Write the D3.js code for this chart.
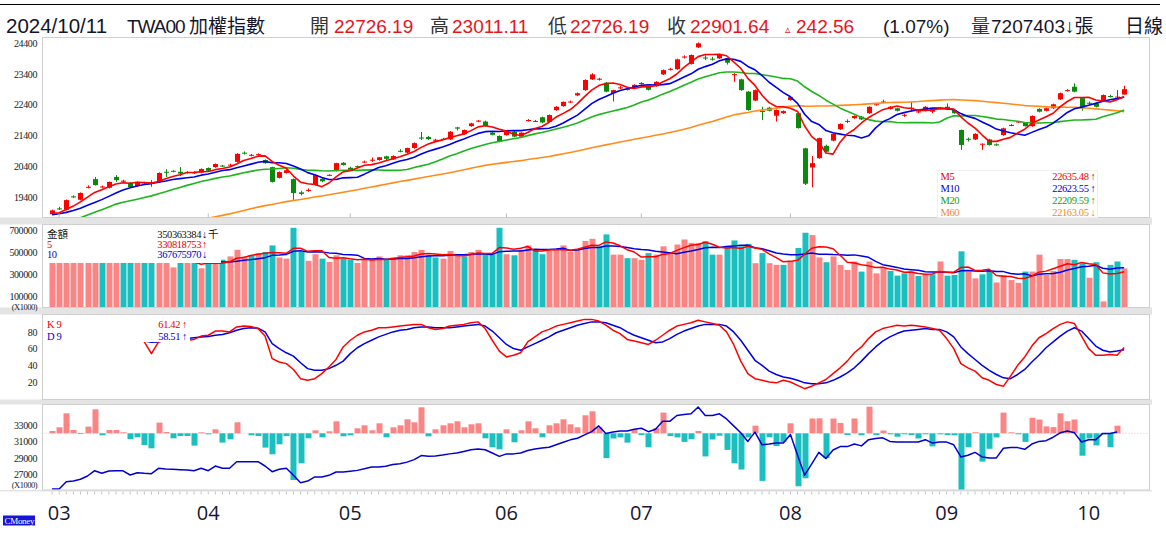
<!DOCTYPE html>
<html lang="zh-Hant">
<head>
<meta charset="UTF-8">
<title>TWA00 加權指數 日線</title>
<style>
  body { margin: 0; background: #fff; }
  svg { display: block; }
  .lab { font-family: "Liberation Serif", "DejaVu Serif", serif; font-size: 10px; letter-spacing: -0.4px; fill: #1a1a1a; }
  .unit { font-family: "Liberation Serif", serif; font-size: 8.5px; letter-spacing: -0.5px; fill: #1a1a1a; }
  .leg { font-family: "Liberation Serif", "DejaVu Serif", serif; font-size: 10.5px; letter-spacing: -0.4px; }
  .legc { font-family: "Noto Sans CJK TC", sans-serif; font-size: 10.5px; }
  .hdr { font-family: "Liberation Sans", "Noto Sans CJK TC", sans-serif; font-size: 19px; }
  .month { font-family: "Open Sans", "Noto Sans", sans-serif; font-size: 20px; fill: #171733; }
</style>
</head>
<body>
<svg id="chart" width="1166" height="549"></svg>

<script src="https://cdnjs.cloudflare.com/ajax/libs/d3/7.8.5/d3.min.js"></script>
<script>

// ---- data (2024/02/29 .. 2024/10/11, one entry per trading day) ----

// closes before the window, only used to feed the moving averages
const prevCloses = [17433,
  17481,17360,17340,17280,17230,17280,17330,17350,17420,17450,17500,17580,17570,17600,17540,17580,17660,17700,17770,17800,17930,
  17850,17590,17510,17510,17470,17480,17550,17550,17650,17550,17480,17380,17390,17440,17580,17820,17920,17930,17990,17810,17800,17890,
  18000,18030,18020,18100,18100,18780,18720,18850,18790,18770,18820,18890,18780,18830,18850];

const opens = [18840,19030,18990,19420,19310,19700,19980,19710,19700,20050,
  19900,19860,19760,19840,19870,19890,20220,20250,20220,20180,
  20180,20190,20340,20370,20420,20430,20540,20840,20750,20770,
  20600,20370,20020,20180,19980,19550,19600,19790,19990,20100,
  20240,20510,20350,20400,20530,20590,20600,20720,20620,20900,
  20840,20990,21330,21350,21240,21290,21270,21660,21440,21700,
  21860,21850,21490,21380,21410,21520,21360,21880,21860,21990,
  21840,22220,22350,22480,22700,22870,23220,23210,23110,22770,
  22940,22890,22960,23080,22980,23000,23380,23540,23550,23940,
  23720,24260,23930,23890,23900,23850,23370,23220,22820,22530,
  22190,22300,22040,22120,22550,22120,20980,20360,20660,21060,
  21230,21600,21870,21960,22010,22120,22400,22500,22260,22280,
  22050,22300,22160,22200,22170,22270,22330,22225,21575,21290,
  21270,21110,21270,21110,21410,21730,21830,21810,21700,22260,
  22200,22280,22570,22850,22980,22610,22460,22440,22530,22680,
  22630,22726.19];

const highs = [18990,19080,19320,19450,19550,19780,20050,19770,19900,20110,
  19960,19880,19900,19890,19950,20200,20300,20270,20370,20240,
  20240,20330,20360,20490,20440,20480,20820,20880,20800,20820,
  20620,20380,20230,20300,20000,19600,19680,20130,20010,20140,
  20510,20530,20380,20420,20580,20680,20700,20740,20750,20950,
  21000,21170,21510,21380,21290,21320,21540,21680,21590,21810,
  21900,21880,21510,21400,21530,21540,21500,21930,21900,22010,
  22080,22350,22500,22530,22790,23220,23420,23270,23130,22880,
  23000,22940,23060,23130,23000,23160,23540,23590,23890,24000,
  24030,24416,24000,23950,24050,23870,23420,23240,22840,22890,
  22330,22330,22240,22210,22660,22140,21000,20730,21330,21100,
  21470,21790,21920,22050,22030,22340,22450,22560,22350,22300,
  22100,22490,22210,22350,22290,22310,22440,22240,21590,21330,
  21470,21140,21290,21140,21650,21770,21870,21830,22050,22280,
  22300,22430,22790,22900,23090,22630,22500,22460,22730,22720,
  22870,23011.11];

const lows = [18820,18980,18970,19370,19290,19680,19770,19690,19680,19890,
  19870,19700,19740,19820,19730,19870,20050,20200,20080,20160,
  20150,20170,20230,20350,20380,20400,20520,20780,20720,20740,
  20480,19870,20000,20160,19300,19450,19570,19770,19880,20080,
  20230,20420,20260,20360,20500,20540,20580,20600,20600,20850,
  20820,20970,21250,21250,21210,21250,21250,21560,21420,21680,
  21830,21690,21400,21180,21390,21340,21340,21850,21840,21800,
  21820,22200,22330,22450,22680,22850,23200,23180,22800,22500,
  22900,22860,22940,23050,22860,22980,23360,23510,23530,23900,
  23700,24240,23850,23830,23880,23700,23140,22850,22200,22510,
  21900,22180,21850,22100,22530,21620,19790,19715,20640,20850,
  21210,21580,21800,21940,21900,22100,22370,22450,22240,22180,
  22000,22170,22120,22180,22120,22240,22230,22100,20930,21200,
  21250,20930,21070,21060,21390,21700,21800,21690,21680,22150,
  22180,22260,22550,22820,22800,22200,22400,22310,22510,22630,
  22600,22726.19];

const closes = [18966,19010,19300,19400,19530,19730,19790,19740,19890,19950,
  19930,19725,19890,19870,19840,20180,20200,20230,20160,20210,
  20200,20310,20250,20470,20400,20450,20800,20820,20770,20790,
  20500,19890,20210,20270,19530,19500,19630,20110,19910,20120,
  20500,20440,20280,20380,20550,20610,20690,20640,20730,20880,
  20990,21150,21310,21280,21260,21270,21520,21620,21575,21790,
  21880,21710,21420,21200,21510,21360,21490,21900,21870,21820,
  22060,22330,22490,22500,22770,23200,23380,23240,22820,22870,
  22960,22910,23040,23100,22880,23140,23520,23560,23870,23960,
  24010,24390,23900,23870,24010,23760,23390,22870,22225,22870,
  22160,22200,22225,22190,22640,21638,19830,20500,21310,20870,
  21450,21770,21845,22030,21920,22330,22410,22490,22330,22200,
  22070,22280,22180,22330,22280,22280,22250,22120,21090,21270,
  21450,21130,21090,21090,21630,21740,21850,21700,22030,22170,
  22280,22410,22770,22870,22820,22280,22440,22330,22710,22660,
  22659.08,22901.64];

// turnover, in thousands of 千元 (axis unit X1000)
const turnover = [420000,450000,480000,440000,470000,520000,560000,470000,470000,510000,
  460000,440000,430000,420000,400000,470000,450000,360000,420000,400000,
  410000,352000,420000,385000,430000,460000,520000,460000,470000,490000,
  500000,560000,450000,440000,720000,500000,420000,480000,440000,410000,
  470000,440000,430000,400000,430000,440000,460000,430000,450000,470000,
  470000,500000,520000,470000,450000,440000,510000,470000,460000,500000,
  520000,480000,480000,720000,480000,470000,520000,560000,520000,480000,
  510000,530000,560000,500000,530000,600000,620000,550000,660000,476000,
  476000,444000,444000,429000,490000,476000,552000,490000,568000,614000,
  583000,583000,598000,476000,476000,552000,605000,552000,574000,398000,
  490000,398000,383000,383000,420000,537000,675000,654000,451000,407000,
  460000,383000,337000,414000,322000,414000,306000,352000,328000,285000,
  306000,322000,282000,297000,297000,414000,285000,291000,506000,322000,
  260000,297000,328000,223000,291000,245000,220000,322000,322000,476000,
  291000,328000,436000,436000,429000,398000,266000,407000,51000,383000,
  414000,350363];

const kValues = [75,78,85,88,90,92,88,85,86,84,80,74,72,68,54,68,75,78,76,70,
  71,75,76,81,81,80,86,87,86.5,84,75,48,44,42,35,24,22,24,30,38,
  47,62,70,76,80,82,85,85,86,87,88,89,89,85,83,84,87,88,89,91,
  92,84,70,57,50,52,55,68,74,80,83,87,89,91,93,95,95,93,88,82,
  78,71,69,67,65,70,76,82,87,89,91,94,92,90,88,80,65,45,30,24,
  22,20,19,22,20,16,12,15,19,23,30,37,45,55,62,72,80,84,86,88,
  87,88,87,86,84,82,72,60,42,37,33,25,22,17,15,27,40,50,63,73,
  78,84,89,92,90,75,60,52,52,53,52,61.42];

const dValues = [70,72,76,80,84,87,87,86,86,85,83,80,76,69,67.5,68,70,73,74,72,
  73,74,74.5,76,77,79,82,84,85,84.5,80,66,60,55,51,43,36,34,34,36,
  40,45,54,61,66,70,74,77,80,82,83,85,86,86,85,85,85,86,87,88,
  89,87,81,73,65,60,58,62,66,70,74,79,82,85,88,90,92,92,91,88,
  85,80,76,73,70,67,68,72,77,81,84,87,89,89,89,87,80,70,58,46,
  40,33,29,26,24.5,22,19,18,18,19,22,26,31,37,45,54,62,69,74,78,
  81,82,83,84,83,83,80,74,62,54,47,40,34,29,25,24,29,35,44,52,
  61,68,75,81,85,81,72,63,58,56,57,58.51];

// bottom panel: daily net (bars) and running total (line, X1000); last day not yet published
const netFlow = [23,60,200,33,-7,67,240,-20,33,33,
  10,-57,-40,-117,-150,107,13,-50,-27,-27,
  -123,10,-10,40,-93,-60,110,0,-20,-27,
  -143,-210,-110,-27,-467,-300,-50,30,-40,20,
  120,-30,-20,50,80,30,100,-40,60,80,
  140,110,260,-30,40,80,100,120,60,90,
  100,-50,-140,-160,40,-90,30,120,50,-40,
  80,100,140,90,60,180,220,60,-248,-52,
  -41,-93,41,-17,-138,52,207,-28,-41,-86,
  -59,24,-231,-62,-24,-166,-300,-362,-41,76,
  -476,-40,-128,-86,100,-530,-450,148,150,-248,
  148,103,-17,148,-20,266,-17,28,-10,-34,
  -10,-17,-52,-10,-131,-10,-17,-20,-569,-138,
  10,-283,-155,-41,207,10,-10,-86,155,138,
  69,62,200,121,138,-224,-52,-121,-10,-138,
  76,null];

const netTotal = [25240,25240,26130,26210,26420,26820,27460,27150,27420,27460,
  27440,26940,27220,27150,27100,27750,27680,27640,27590,27550,
  27460,27750,27460,28030,27750,27750,28550,28550,28550,28550,
  28030,27340,27630,27750,26900,26010,26200,26700,26700,26900,
  27300,27300,27400,27500,27700,27900,27900,28000,28200,28300,
  28500,28800,29300,29200,29250,29350,29500,29600,29800,30000,
  30100,30000,29600,29200,29500,29500,29600,29900,30100,30200,
  30300,30600,30900,31200,31400,31800,32200,32890,31980,32140,
  32270,32270,32480,32600,32190,32480,33440,33440,34150,34270,
  34360,35190,34150,34150,34360,33730,32890,32050,31010,32140,
  30600,30690,30810,30810,31850,29340,26920,28300,29680,28930,
  29970,30380,30380,30690,30470,31220,31350,31440,31010,30930,
  30930,30930,30930,31220,30810,30930,30930,30600,29130,29340,
  29680,29130,29010,29010,30180,30260,30260,30050,30690,31010,
  31100,31520,32050,32270,32050,30930,31220,31220,31980,31980,
  32140,null];

const monthLabels = ['03','04','05','06','07','08','09','10'];
const monthStarts = [1, 22, 42, 64, 83, 104, 126, 146];

const priceTicks = [19400, 20400, 21400, 22400, 23400, 24400];
const volTicks = [100000, 300000, 500000, 700000];
const kdTicks = [20, 40, 60, 80];
const netTicks = [27000, 29000, 31000, 33000];

const maLegend = [
  { name: 'M5',  value: '22635.48', arrow: '↑', color: '#e60000' },
  { name: 'M10', value: '22623.55', arrow: '↑', color: '#0000cc' },
  { name: 'M20', value: '22209.59', arrow: '↑', color: '#12a012' },
  { name: 'M60', value: '22163.05', arrow: '↓', color: '#f08a24' }
];
const volLegend = [
  { name: '金額', value: '350363384', arrow: '↓', unit: '千', color: '#111' },
  { name: '5',    value: '330818753', arrow: '↑', unit: '',   color: '#e60000' },
  { name: '10',   value: '367675970', arrow: '↓', unit: '',   color: '#0000cc' }
];
const kdLegend = [
  { name: 'K 9', value: '61.42', arrow: '↑', color: '#e60000' },
  { name: 'D 9', value: '58.51', arrow: '↑', color: '#0000cc' }
];

// ---- drawing ----

const RED = '#ff0000', GREEN = '#0a8a0a';
const PINK = '#fb8585', TEAL = '#1bbfbf';
const N = closes.length;
const P = prevCloses.length;

const svg = d3.select('#chart');
svg.append('rect').attr('width', 1166).attr('height', 549).attr('fill', '#fff');

const left = 42.5, right = 1149.5;
const panels = {
  price: { top: 37.5, bottom: 217.5 },
  vol:   { top: 224.5, bottom: 307.5 },
  kd:    { top: 314.5, bottom: 399.5 },
  net:   { top: 404.5, bottom: 490 }
};

const x = d3.scaleBand().domain(d3.range(N)).range([48.5, 1127.7]);
const cx = i => x(i) + x.bandwidth() / 2;

const yPrice = d3.scaleLinear().domain([19400, 24400]).range([197, 43]);
const yVol = d3.scaleLinear().domain([100000, 700000]).range([296, 230]);
const yKD = d3.scaleLinear().domain([0, 100]).range([398.7, 315.2]);
const yTotal = d3.scaleLinear().domain([27000, 33000]).range([474.5, 425]);
const yFlow = d3.scaleLinear().domain([-560, 280]).range([489.3, 405.3]);

// gray separators
const bands = [[217.5, 224.5], [307.5, 314.5], [399.5, 404.5], [490, 491.5]];
bands.forEach(b => {
  svg.append('rect').attr('x', 0).attr('y', b[0]).attr('width', 1152).attr('height', b[1] - b[0])
    .attr('fill', '#e4e4e4');
});

const defs = svg.append('defs');
Object.entries(panels).forEach(([key, p]) => {
  svg.append('rect').attr('x', left).attr('y', p.top)
    .attr('width', right - left).attr('height', p.bottom - p.top)
    .attr('fill', '#fff').attr('stroke', '#cfcfcf').attr('stroke-width', 1);
  defs.append('clipPath').attr('id', 'clip-' + key)
    .append('rect').attr('x', left + 0.5).attr('y', p.top + 0.5)
    .attr('width', right - left - 1).attr('height', p.bottom - p.top - 1);
});

function movingAverage(values, lead, n) {
  const out = [];
  for (let i = lead; i < values.length; i++) {
    out.push(i - n + 1 < 0 ? null : d3.mean(values.slice(i - n + 1, i + 1)));
  }
  return out;
}

function drawLine(g, values, yScale, color, width) {
  const line = d3.line()
    .defined(d => d[1] != null)
    .x(d => cx(d[0]))
    .y(d => yScale(d[1]));
  g.append('path')
    .datum(values.map((v, i) => [i, v]))
    .attr('d', line)
    .attr('fill', 'none')
    .attr('stroke', color)
    .attr('stroke-width', width)
    .attr('stroke-linejoin', 'round');
}

// ---- price panel ----
const allCloses = prevCloses.concat(closes);
const ma5 = movingAverage(allCloses, P, 5);
const ma10 = movingAverage(allCloses, P, 10);
const ma20 = movingAverage(allCloses, P, 20);
const ma60 = movingAverage(allCloses, P, 60);

const gPrice = svg.append('g').attr('clip-path', 'url(#clip-price)');
const candles = d3.range(N).map(i => ({ i, o: opens[i], h: highs[i], l: lows[i], c: closes[i] }));

gPrice.selectAll('line.wick').data(candles).join('line')
  .attr('class', 'wick')
  .attr('x1', d => Math.round(cx(d.i)) + 0.5).attr('x2', d => Math.round(cx(d.i)) + 0.5)
  .attr('y1', d => yPrice(d.h)).attr('y2', d => yPrice(d.l))
  .attr('stroke', d => d.c >= d.o ? RED : GREEN).attr('stroke-width', 1);

gPrice.selectAll('rect.body').data(candles).join('rect')
  .attr('class', 'body')
  .attr('x', d => Math.round(cx(d.i)) - 2)
  .attr('width', 5)
  .attr('y', d => yPrice(Math.max(d.o, d.c)))
  .attr('height', d => Math.max(1, Math.abs(yPrice(d.o) - yPrice(d.c))))
  .attr('fill', d => d.c >= d.o ? RED : GREEN);

drawLine(gPrice, ma60, yPrice, '#ff8c1a', 1.6);
drawLine(gPrice, ma20, yPrice, '#1eb41e', 1.6);
drawLine(gPrice, ma10, yPrice, '#0000e6', 1.6);
drawLine(gPrice, ma5, yPrice, '#ff0000', 1.6);

// month marks on the bottom edge of the price panel
const mt = svg.append('g').attr('transform', `translate(0,${panels.price.bottom})`)
  .call(d3.axisTop(x).tickValues(monthStarts).tickSize(4).tickFormat(''));
mt.select('.domain').remove();
mt.selectAll('line').attr('stroke', '#bdbdbd');

// MA legend
const maBox = svg.append('g').attr('transform', 'translate(937.5,170.5)');
maBox.append('rect').attr('width', 160).attr('height', 47).attr('fill', '#fff').attr('stroke', '#efefef');
maLegend.forEach((m, k) => {
  const yy = 9 + k * 12;
  maBox.append('text').attr('class', 'leg').attr('x', 3).attr('y', yy).attr('fill', m.color).text(m.name);
  maBox.append('text').attr('class', 'leg').attr('x', 151).attr('y', yy).attr('text-anchor', 'end')
    .attr('fill', m.color).text(m.value);
  maBox.append('text').attr('class', 'leg').attr('x', 153).attr('y', yy).attr('fill', m.color).text(m.arrow);
});

// ---- turnover panel ----
const gVol = svg.append('g').attr('clip-path', 'url(#clip-vol)');
const isUp = i => closes[i] >= (i === 0 ? prevCloses[P - 1] : closes[i - 1]);

gVol.selectAll('rect').data(turnover).join('rect')
  .attr('x', (d, i) => Math.round(cx(i)) - 2.5)
  .attr('width', 6)
  .attr('y', d => yVol(d))
  .attr('height', d => yVol(0) - yVol(d))
  .attr('fill', (d, i) => isUp(i) ? PINK : TEAL);

drawLine(gVol, movingAverage(turnover, 0, 10), yVol, '#0000e6', 1.5);
drawLine(gVol, movingAverage(turnover, 0, 5), yVol, '#ff0000', 1.5);

const volBox = svg.append('g').attr('transform', 'translate(45,227)');
volBox.append('rect').attr('width', 176).attr('height', 36).attr('fill', '#fff');
volLegend.forEach((m, k) => {
  const yy = 10.5 + k * 10.2;
  volBox.append('text').attr('class', m.name === '金額' ? 'legc' : 'leg')
    .attr('x', 2).attr('y', yy).attr('fill', m.color).text(m.name);
  volBox.append('text').attr('class', 'leg').attr('x', 156).attr('y', yy).attr('text-anchor', 'end')
    .attr('fill', m.color).text(m.value);
  volBox.append('text').attr('class', 'leg').attr('x', 157).attr('y', yy).attr('fill', m.color).text(m.arrow);
  if (m.unit) volBox.append('text').attr('class', 'legc').attr('x', 163).attr('y', yy).attr('fill', m.color).text(m.unit);
});

// ---- KD panel ----
const gKD = svg.append('g').attr('clip-path', 'url(#clip-kd)');
drawLine(gKD, dValues, yKD, '#0000e6', 1.5);
drawLine(gKD, kValues, yKD, '#ff0000', 1.5);

const kdBox = svg.append('g').attr('transform', 'translate(45,317)');
kdBox.append('rect').attr('width', 145).attr('height', 25).attr('fill', '#fff');
kdLegend.forEach((m, k) => {
  const yy = 10.5 + k * 12.5;
  kdBox.append('text').attr('class', 'leg').attr('x', 2).attr('y', yy).attr('fill', m.color).text(m.name);
  kdBox.append('text').attr('class', 'leg').attr('x', 135).attr('y', yy).attr('text-anchor', 'end')
    .attr('fill', m.color).text(m.value);
  kdBox.append('text').attr('class', 'leg').attr('x', 137).attr('y', yy).attr('fill', m.color).text(m.arrow);
});

// ---- net flow panel ----
const gNet = svg.append('g').attr('clip-path', 'url(#clip-net)');
gNet.append('line').attr('x1', left).attr('x2', right)
  .attr('y1', yFlow(0)).attr('y2', yFlow(0))
  .attr('stroke', '#cccccc').attr('stroke-dasharray', '1,2');

gNet.selectAll('rect').data(netFlow.map((v, i) => [i, v]).filter(d => d[1] != null)).join('rect')
  .attr('x', d => Math.round(cx(d[0])) - 2.5)
  .attr('width', 6)
  .attr('y', d => yFlow(Math.max(0, d[1])))
  .attr('height', d => Math.abs(yFlow(d[1]) - yFlow(0)))
  .attr('fill', d => d[1] >= 0 ? PINK : TEAL);

drawLine(gNet, netTotal, yTotal, '#0000d0', 1.5);

// ---- axes ----
function leftAxis(scale, ticks) {
  const g = svg.append('g').attr('transform', 'translate(41,0)')
    .call(d3.axisLeft(scale).tickValues(ticks).tickSize(0).tickPadding(4).tickFormat(d3.format('d')));
  g.select('.domain').remove();
  g.selectAll('text').attr('class', 'lab');
  return g;
}
leftAxis(yPrice, priceTicks);
leftAxis(yVol, volTicks);
leftAxis(yKD, kdTicks);
leftAxis(yTotal, netTicks);

svg.append('text').attr('class', 'unit').attr('x', 37).attr('y', 309.5).attr('text-anchor', 'end').text('(X1000)');
svg.append('text').attr('class', 'unit').attr('x', 37).attr('y', 488).attr('text-anchor', 'end').text('(X1000)');

// day ticks under the last panel
const dt = svg.append('g').attr('transform', 'translate(0,491.5)')
  .call(d3.axisBottom(x).tickValues(d3.range(N)).tickSize(3).tickFormat(''));
dt.select('.domain').remove();
dt.selectAll('line').attr('stroke', '#c4c4c4');

// month labels
const ma = svg.append('g').attr('transform', 'translate(0,520)')
  .call(d3.axisBottom(x).tickValues(monthStarts).tickSize(0).tickPadding(0)
    .tickFormat((d, i) => monthLabels[i]));
ma.select('.domain').remove();
ma.selectAll('text').attr('class', 'month').attr('dy', null).attr('y', 0);

// CMoney tag
svg.append('rect').attr('x', 3).attr('y', 515.5).attr('width', 32).attr('height', 10).attr('fill', '#1515d8');
svg.append('text').attr('x', 4.5).attr('y', 523.5).attr('fill', '#fff')
  .attr('font-family', 'Liberation Serif, serif').attr('font-size', 9).attr('letter-spacing', -0.3).text('CMoney');

// ---- header ----
svg.append('line').attr('x1', 0).attr('x2', 1160).attr('y1', 4.5).attr('y2', 4.5)
  .attr('stroke', '#000').attr('stroke-width', 1.2);

const HRED = '#e8141c', HDARK = '#15152a';
const header = [
  { t: '2024/10/11', x: 6, fill: HDARK, size: 20.5, weight: 500 },
  { t: 'TWA00', x: 127, fill: HDARK, ls: -1 },
  { t: '加權指數', x: 189, fill: HDARK },
  { t: '開', x: 310, fill: '#333' },
  { t: '22726.19', x: 334, fill: HRED },
  { t: '高', x: 430, fill: '#333' },
  { t: '23011.11', x: 452, fill: HRED },
  { t: '低', x: 548, fill: '#333' },
  { t: '22726.19', x: 570, fill: HRED },
  { t: '收', x: 667, fill: '#333' },
  { t: '22901.64', x: 690, fill: HRED },
  { t: '▵', x: 785, fill: HRED, size: 11 },
  { t: '242.56', x: 796, fill: HRED },
  { t: '(1.07%)', x: 883, fill: HDARK },
  { t: '量', x: 971, fill: '#333' },
  { t: '7207403↓張', x: 991, fill: HDARK },
  { t: '日線', x: 1125, fill: HDARK }
];
svg.append('g').selectAll('text').data(header).join('text')
  .attr('class', 'hdr')
  .attr('x', d => d.x).attr('y', 32.8)
  .attr('fill', d => d.fill)
  .style('font-size', d => d.size ? d.size + 'px' : null)
  .style('font-weight', d => d.weight || null)
  .style('letter-spacing', d => d.ls ? d.ls + 'px' : null)
  .text(d => d.t);

</script>
</body>
</html>
